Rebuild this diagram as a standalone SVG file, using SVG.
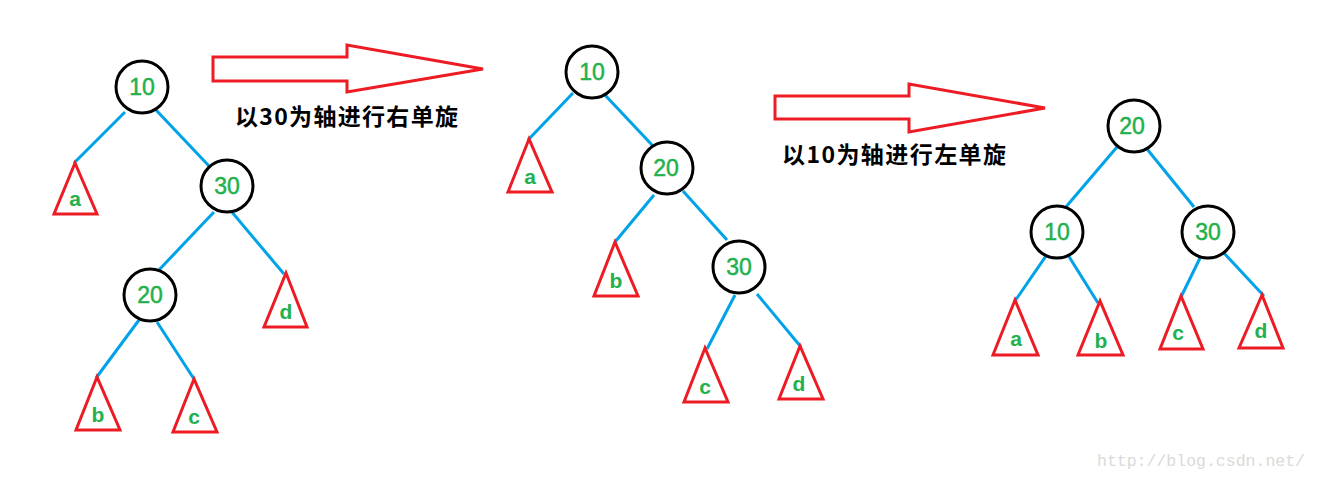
<svg xmlns="http://www.w3.org/2000/svg" width="1318" height="481" viewBox="0 0 1318 481">
<style>
.node circle{fill:#fff;stroke:#000;stroke-width:3}
.num{font-family:"Liberation Sans",Arial,sans-serif;font-size:23px;fill:#22B14C;stroke:#22B14C;stroke-width:0.5;text-anchor:middle}
.sub polygon{fill:#fff;stroke:#ED1C24;stroke-width:3;stroke-linejoin:miter}
.let{font-family:"Liberation Sans",Arial,sans-serif;font-size:21px;font-weight:bold;fill:#22B14C;text-anchor:middle}
#connectors line{stroke:#00A2E8;stroke-width:3}
.arrow{fill:#fff;stroke:#ED1C24;stroke-width:3}
.cap{font-family:"Noto Sans CJK SC","Noto Sans CJK TC",sans-serif;font-size:23px;font-weight:bold;fill:#000}
.wm{font-family:"Liberation Mono","Courier New",monospace;font-size:16.5px;fill:#dadada}
</style>
<rect width="1318" height="481" fill="#fff"/>
<g id="connectors">
<!-- tree 1 -->
<line x1="125" y1="112" x2="74" y2="163"/>
<line x1="156" y1="110" x2="209" y2="166"/>
<line x1="214" y1="212" x2="158" y2="271"/>
<line x1="231" y1="211" x2="284" y2="274"/>
<line x1="139" y1="320" x2="96" y2="378"/>
<line x1="157" y1="322" x2="194" y2="379"/>
<!-- tree 2 -->
<line x1="573" y1="93" x2="528" y2="140"/>
<line x1="604" y1="94" x2="653" y2="146"/>
<line x1="654" y1="195" x2="615" y2="242"/>
<line x1="683" y1="191" x2="727" y2="240"/>
<line x1="735" y1="295" x2="707" y2="349"/>
<line x1="757" y1="294" x2="801" y2="347"/>
<!-- tree 3 -->
<line x1="1117" y1="147" x2="1065" y2="208"/>
<line x1="1147" y1="149" x2="1194" y2="207"/>
<line x1="1048" y1="253" x2="1015" y2="301"/>
<line x1="1068" y1="255" x2="1098" y2="303"/>
<line x1="1200" y1="258" x2="1181" y2="297"/>
<line x1="1223" y1="252" x2="1264" y2="296"/>
</g>
<!-- arrows -->
<g id="arrow1"><polygon class="arrow" points="213,57 347,57 347,45 483,69 347,92 347,81 213,81"/></g>
<g id="arrow2"><polygon class="arrow" points="775,96 909,96 909,84 1045,108 909,132 909,119 775,119"/></g>
<text class="cap" x="235" y="125" textLength="223" lengthAdjust="spacing">以30为轴进行右单旋</text>
<text class="cap" x="782" y="163" textLength="224" lengthAdjust="spacing">以10为轴进行左单旋</text>
<!-- tree 1 nodes -->
<g id="t1-10" class="node"><circle cx="142" cy="87" r="26"/><text class="num" x="142" y="95">10</text></g>
<g id="t1-30" class="node"><circle cx="227" cy="186" r="26"/><text class="num" x="227" y="194">30</text></g>
<g id="t1-20" class="node"><circle cx="150" cy="295" r="26"/><text class="num" x="150" y="303">20</text></g>
<g id="t1-a" class="sub"><polygon points="75,163 54,214 97,214"/><text class="let" x="75" y="206">a</text></g>
<g id="t1-d" class="sub"><polygon points="286,273 264,327 307,327"/><text class="let" x="286" y="319">d</text></g>
<g id="t1-b" class="sub"><polygon points="97,377 76,430 120,430"/><text class="let" x="98" y="422">b</text></g>
<g id="t1-c" class="sub"><polygon points="194,379 173,432 217,432"/><text class="let" x="194" y="424">c</text></g>
<!-- tree 2 nodes -->
<g id="t2-10" class="node"><circle cx="592" cy="72" r="26"/><text class="num" x="592" y="80">10</text></g>
<g id="t2-20" class="node"><circle cx="667" cy="168" r="26"/><text class="num" x="666" y="176">20</text></g>
<g id="t2-30" class="node"><circle cx="739" cy="267" r="26"/><text class="num" x="739" y="275">30</text></g>
<g id="t2-a" class="sub"><polygon points="529,139 508,192 552,192"/><text class="let" x="530" y="184">a</text></g>
<g id="t2-b" class="sub"><polygon points="615,242 594,296 638,296"/><text class="let" x="616" y="288">b</text></g>
<g id="t2-c" class="sub"><polygon points="705,348 684,402 728,402"/><text class="let" x="705" y="394">c</text></g>
<g id="t2-d" class="sub"><polygon points="800,346 779,399 823,399"/><text class="let" x="799" y="391">d</text></g>
<!-- tree 3 nodes -->
<g id="t3-20" class="node"><circle cx="1134" cy="126" r="26"/><text class="num" x="1132" y="134">20</text></g>
<g id="t3-10" class="node"><circle cx="1057" cy="232" r="26"/><text class="num" x="1057" y="240">10</text></g>
<g id="t3-30" class="node"><circle cx="1208" cy="232" r="26"/><text class="num" x="1208" y="240">30</text></g>
<g id="t3-a" class="sub"><polygon points="1015,300 993,355 1038,355"/><text class="let" x="1016" y="346">a</text></g>
<g id="t3-b" class="sub"><polygon points="1100,301 1078,355 1123,355"/><text class="let" x="1101" y="348">b</text></g>
<g id="t3-c" class="sub"><polygon points="1181,296 1160,349 1203,349"/><text class="let" x="1178" y="340">c</text></g>
<g id="t3-d" class="sub"><polygon points="1262,295 1239,348 1283,348"/><text class="let" x="1261" y="338">d</text></g>
<text class="wm" x="1097" y="466" textLength="208" lengthAdjust="spacing">http://blog.csdn.net/</text>
</svg>
